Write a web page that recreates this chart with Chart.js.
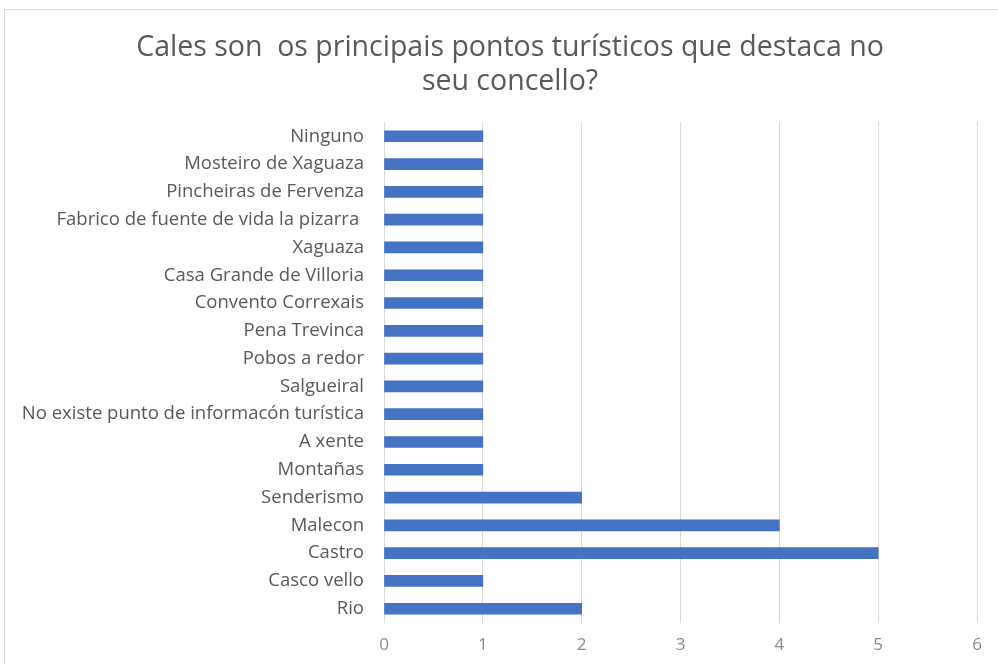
<!DOCTYPE html>
<html>
<head>
<meta charset="utf-8">
<script src="https://cdn.jsdelivr.net/npm/chart.js@4.4.1/dist/chart.umd.min.js"></script>
<style>
  html, body { margin: 0; padding: 0; background: #fff; overflow: hidden; }
  #frame { position: absolute; left: 4px; top: 9px; width: 1010px; height: 670px; border: 1px solid #d9d9d9; }
  #wrap { position: absolute; left: 0; top: 0; width: 1010px; height: 668px; }
</style>
</head>
<body>
<div id="frame"><div id="wrap"><canvas id="chart"></canvas></div></div>
<script>
// categorías (de arriba a abaixo)
const categories = [
  'Ninguno',
  'Mosteiro de Xaguaza',
  'Pincheiras de Fervenza',
  'Fabrico de fuente de vida la pizarra ',
  'Xaguaza',
  'Casa Grande de Villoria',
  'Convento Correxais',
  'Pena Trevinca',
  'Pobos a redor',
  'Salgueiral',
  'No existe punto de informacón turística',
  'A xente',
  'Montañas',
  'Senderismo',
  'Malecon',
  'Castro',
  'Casco vello',
  'Rio',
]
const values = [1, 1, 1, 1, 1, 1, 1, 1, 1, 1, 1, 1, 1, 2, 4, 5, 1, 2]
const xTicks = [0, 1, 2, 3, 4, 5, 6]
const titleLines = ['Cales son  os principais pontos turísticos que destaca no', 'seu concello?']

const ctx = document.getElementById('chart').getContext('2d')
new Chart(ctx, {
  type: 'bar',
  data: {
    labels: categories,
    datasets: [
      {
        data: values,
        backgroundColor: '#4472c4',
        barThickness: 11,
      },
    ],
  },
  options: {
    indexAxis: 'y',
    responsive: true,
    maintainAspectRatio: false,
    animation: false,
    layout: { padding: { left: 0, right: 0, top: 0, bottom: 11 } },
    plugins: {
      legend: { display: false },
      tooltip: { enabled: false },
      title: {
        display: true,
        text: titleLines,
        color: '#595959',
        font: { family: 'Open Sans', size: 28.5, weight: 'normal', lineHeight: 1.2 },
        padding: { top: 21, bottom: 23 },
      },
    },
    scales: {
      x: {
        min: 0,
        max: 6,
        afterBuildTicks: (scale) => {
          scale.ticks = xTicks.map((v) => ({ value: v }))
        },
        grid: { color: '#d9d9d9', drawTicks: false },
        border: { display: false },
        ticks: {
          color: '#8a8a8a',
          padding: 12,
          font: { family: 'Open Sans', size: 17 },
        },
      },
      y: {
        afterFit: (scale) => {
          scale.width = 379
        },
        grid: { display: false, drawTicks: false },
        border: { display: false },
        ticks: {
          color: '#595959',
          padding: 20,
          autoSkip: false,
          font: { family: 'Open Sans', size: 18.5 },
        },
      },
      // espacio baleiro á dereita
      yRight: {
        type: 'category',
        position: 'right',
        afterFit: (scale) => {
          scale.width = 38
        },
        grid: { display: false, drawTicks: false },
        border: { display: false },
        ticks: { display: false },
      },
    },
  },
})
</script>
</body>
</html>
